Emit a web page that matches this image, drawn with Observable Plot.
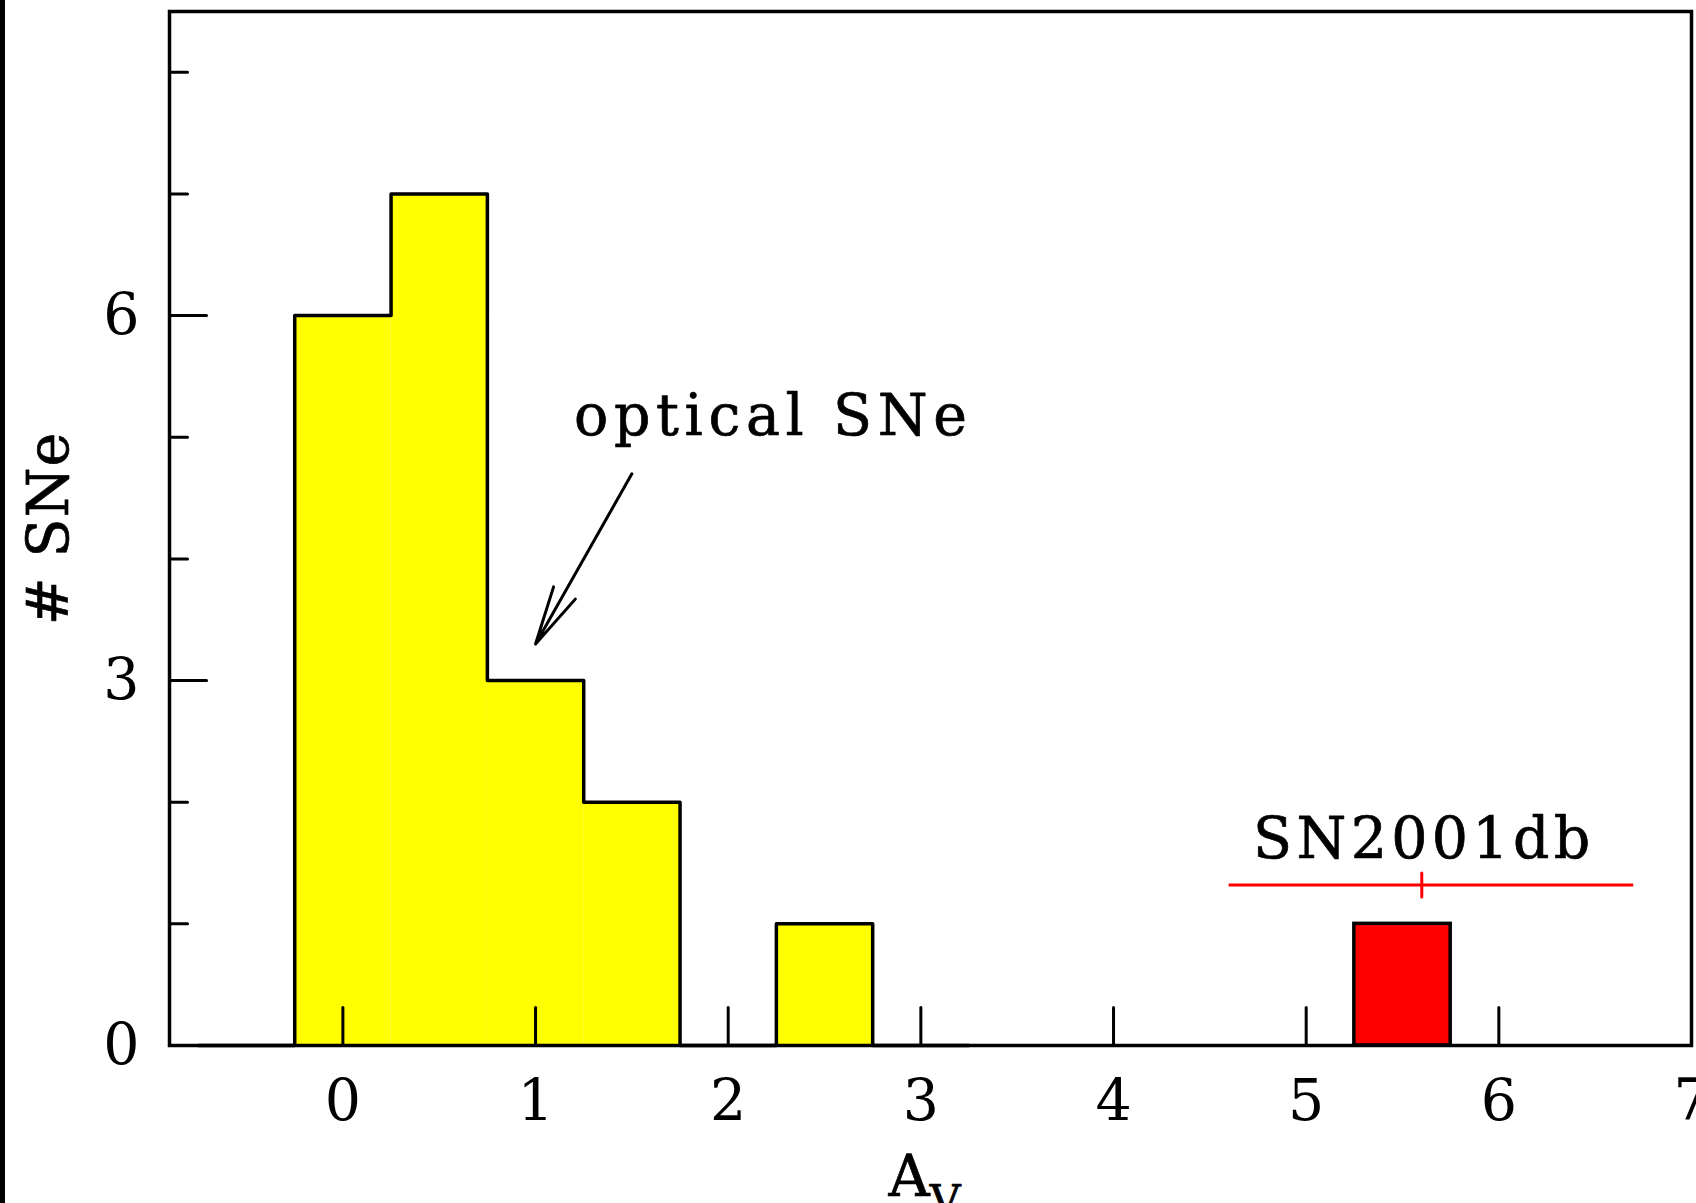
<!DOCTYPE html>
<html>
<head>
<meta charset="utf-8">
<script src="https://cdn.jsdelivr.net/npm/d3@7"></script>
<script src="https://cdn.jsdelivr.net/npm/@observablehq/plot@0.6"></script>
<style>
  html, body { margin: 0; padding: 0; background: #fff; }
  #wrap { position: relative; width: 1696px; height: 1203px; overflow: hidden; }
  #stripe { position: absolute; left: 0; top: 0; width: 5px; height: 1203px; background: #000; }
  svg { font-family: "DejaVu Serif", serif; }
  .optlab text { letter-spacing: 5.6px; }
  .snlab text { letter-spacing: 4.3px; }
  .ylab text { letter-spacing: 1px; }
</style>
</head>
<body>
<div id="wrap"><div id="chart"></div><div id="stripe"></div></div>
<script>
// ---- data ----
const binCenters = [-0.5, 0, 0.5, 1, 1.5, 2, 2.5, 3];
const opticalCounts = [0, 6, 7, 3, 2, 0, 1, 0];
const binWidth = 0.5;
const snBinCenters = [5.5];
const snCounts = [1];
const snName = ["SN2001db"];
const snAv = [5.6];
const snAvLow = [4.6];
const snAvHigh = [6.7];
const snErrLevel = [1.32];
const snLabelLevel = [1.69];
const opticalLabel = ["optical SNe"];
const opticalLabelPos = [[1.2, 5.17]];
const arrowFrom = [[1.5, 4.7]];
const arrowTo = [[1.0, 3.3]];
const xTicks = [0, 1, 2, 3, 4, 5, 6, 7];
const yMajorTicks = [0, 3, 6];
const yMinorTicks = [1, 2, 4, 5, 7, 8];
const xLabel = ["A"];
const xLabelSub = "V";
const yLabel = ["# SNe"];

// ---- derived tables ----
const bins = binCenters.map((c, i) => ({x1: c - binWidth / 2, x2: c + binWidth / 2, y: opticalCounts[i]}));
const stepPts = binCenters.map((c, i) => ({x: c - binWidth / 2, y: opticalCounts[i]}));
stepPts.push({x: binCenters[binCenters.length - 1] + binWidth / 2, y: 0});
const snBins = snBinCenters.map((c, i) => ({x1: c - binWidth / 2, x2: c + binWidth / 2, y: snCounts[i]}));
const snErr = snAv.map((v, i) => ({av: v, lo: snAvLow[i], hi: snAvHigh[i], y: snErrLevel[i], ly: snLabelLevel[i], name: snName[i]}));
const optLab = opticalLabel.map((t, i) => ({t, x: opticalLabelPos[i][0], y: opticalLabelPos[i][1]}));
const arrows = arrowFrom.map((f, i) => ({x1: f[0], y1: f[1], x2: arrowTo[i][0], y2: arrowTo[i][1]}));

const lineShape = {draw(context, l) { context.moveTo(0, 0); context.lineTo(0, -l); }};
const FS = 57;
const textStroke = {stroke: "#000", strokeWidth: 0.7};

const chart = Plot.plot({
  width: 1696,
  height: 1203,
  marginLeft: 169,
  marginRight: 5,
  marginTop: 11,
  marginBottom: 158,
  style: {fontFamily: "DejaVu Serif, serif", background: "#fff", overflow: "visible"},
  x: {domain: [-0.9, 7]},
  y: {domain: [0, 8.5]},
  marks: [
    Plot.rect(bins, {x1: "x1", x2: "x2", y1: 0, y2: "y", fill: "#ffff00"}),
    Plot.line(stepPts, {x: "x", y: "y", curve: "step-after", stroke: "#000", strokeWidth: 3.5}),
    Plot.rect(snBins, {x1: "x1", x2: "x2", y1: 0, y2: "y", fill: "#ff0000", stroke: "#000", strokeWidth: 3.5}),
    Plot.ruleY(snErr, {y: "y", x1: "lo", x2: "hi", stroke: "#ff0000", strokeWidth: 3}),
    Plot.vector(snErr, {x: "av", y: "y", length: 24, rotate: 0, anchor: "middle", shape: lineShape, stroke: "#ff0000", strokeWidth: 3}),
    Plot.text(snErr, {x: "av", y: "ly", text: "name", fontSize: FS, fill: "#000", ...textStroke, textAnchor: "middle", lineAnchor: "middle", dx: 2, className: "snlab"}),
    Plot.text(optLab, {x: "x", y: "y", text: "t", fontSize: FS, fill: "#000", ...textStroke, textAnchor: "start", lineAnchor: "middle", className: "optlab"}),
    Plot.arrow(arrows, {x1: "x1", y1: "y1", x2: "x2", y2: "y2", stroke: "#000", strokeWidth: 3, headLength: 30, headAngle: 24}),
    // ticks (inward)
    Plot.vector(xTicks, {x: d => d, y: 0, length: 38, rotate: 0, anchor: "start", shape: lineShape, stroke: "#000", strokeWidth: 3}),
    Plot.vector(yMajorTicks, {x: -0.9, y: d => d, length: 37, rotate: 90, anchor: "start", shape: lineShape, stroke: "#000", strokeWidth: 3}),
    Plot.vector(yMinorTicks, {x: -0.9, y: d => d, length: 18, rotate: 90, anchor: "start", shape: lineShape, stroke: "#000", strokeWidth: 3}),
    Plot.axisX({ticks: xTicks, tickSize: 0, tickPadding: 34, fontSize: FS, label: null, tickFormat: d => String(d), ...textStroke}),
    Plot.axisY({ticks: yMajorTicks, tickSize: 0, tickPadding: 30, fontSize: FS, label: null, tickFormat: d => String(d), ...textStroke}),
    Plot.text(yLabel, {text: d => d, frameAnchor: "left", dx: -120, rotate: -90, fontSize: FS, fill: "#000", ...textStroke, textAnchor: "middle", lineAnchor: "middle", className: "ylab"}),
    Plot.text(xLabel, {text: d => d, frameAnchor: "bottom", dy: 132, dx: -6, fontSize: FS, fill: "#000", ...textStroke, textAnchor: "middle", lineAnchor: "middle", className: "xlab"}),
    Plot.frame({stroke: "#000", strokeWidth: 3.5})
  ]
});
document.getElementById("chart").appendChild(chart);
// subscript on the x label
const xl = chart.querySelector(".xlab text");
if (xl) {
  const ts = document.createElementNS("http://www.w3.org/2000/svg", "tspan");
  ts.setAttribute("dy", "0.45em");
  ts.setAttribute("font-size", "0.75em");
  ts.textContent = xLabelSub;
  xl.appendChild(ts);
}
</script>
</body>
</html>
